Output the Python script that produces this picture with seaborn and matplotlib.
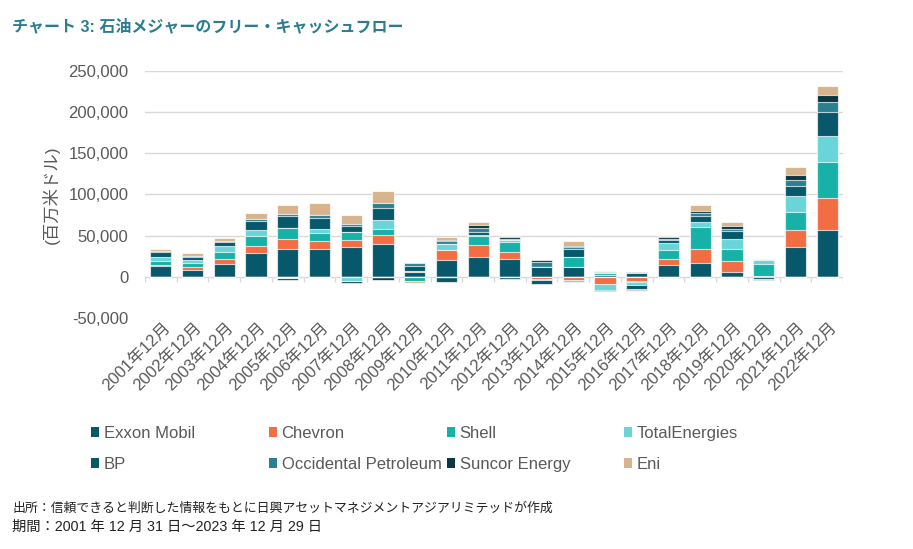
import matplotlib
matplotlib.use("Agg")
import matplotlib.pyplot as plt
import seaborn as sns
import pandas as pd
import numpy as np
from matplotlib.patches import Patch
from matplotlib.ticker import FuncFormatter, FixedLocator
from matplotlib.transforms import ScaledTranslation

months = ["2001年12月", "2002年12月", "2003年12月", "2004年12月", "2005年12月",
          "2006年12月", "2007年12月", "2008年12月", "2009年12月", "2010年12月",
          "2011年12月", "2012年12月", "2013年12月", "2014年12月", "2015年12月",
          "2016年12月", "2017年12月", "2018年12月", "2019年12月", "2020年12月",
          "2021年12月", "2022年12月"]

companies = ["Exxon Mobil", "Chevron", "Shell", "TotalEnergies", "BP",
             "Occidental Petroleum", "Suncor Energy", "Eni"]

exxon = [12600, 8900, 15000, 28800, 33700, 33300, 35700, 39800, 5300, 20700, 24000,
         21100, 11400, 11400, 2800, 4800, 14200, 16200, 5300, -3200, 35700, 57300]
chevron = [2000, 2800, 6900, 8500, 12200, 10600, 9300, 11000, 0, 12200, 15000,
           8500, -2400, -3700, -9300, -4500, 7300, 17000, 13400, 1600, 21100, 38200]
shell = [4900, 4500, 8500, 12200, 13400, 8900, 9700, 7700, -4900, 0, 10200,
         12200, 0, 12600, 2000, -1200, 11400, 26800, 15000, 13800, 22400, 43400]
total = [4500, 4000, 7300, 7700, -1600, 5700, -5300, 10600, 1200, 6500, 1200,
         2800, -1400, -2000, -6500, -4000, 8500, 6900, 12600, 4500, 18700, 32100]
bp = [5700, 4000, 4500, 11000, 14200, 13000, 6500, 15000, 6100, -5700, 4500,
      -2800, -4500, 9700, -2000, -4900, 3200, 7300, 9300, -800, 12200, 28800]
oxy = [1200, 1200, 1600, 2400, 3200, 4100, 3200, 6100, 4000, 4100, 4500,
       1600, 6500, 2000, 1600, 1000, 1600, 2800, 2800, 0, 7700, 13000]
suncor = [0, 0, 0, 0, -2000, 0, -2000, -3300, 0, 1200, 3200,
          1600, 2000, 2000, 0, -1200, 1600, 3200, 3200, 0, 6100, 7700]
eni = [2800, 3200, 3200, 7300, 11000, 14200, 10100, 14600, -2400, 3700, 4100,
       1600, 800, 6100, 1200, -1600, 1600, 6900, 5300, 1600, 9700, 11400]

colors = ["#07586a", "#f36d44", "#17b1a8", "#6ad5d9", "#07586a", "#2a7f93", "#0a3741", "#d8b48c"]

yticks = [-50000, 0, 50000, 100000, 150000, 200000, 250000]

title = "チャート 3: 石油メジャーのフリー・キャッシュフロー"
ylabel = "(百万米ドル)"
source = "出所：信頼できると判断した情報をもとに日興アセットマネジメントアジアリミテッドが作成"
period = "期間：2001 年 12 月 31 日～2023 年 12 月 29 日"

sns.set_theme(style="white")
plt.rcParams["font.family"] = ["Liberation Sans", "Noto Sans CJK JP", "DejaVu Sans"]
plt.rcParams["axes.unicode_minus"] = False

df = pd.DataFrame({"month": months, "Exxon Mobil": exxon, "Chevron": chevron, "Shell": shell,
                   "TotalEnergies": total, "BP": bp, "Occidental Petroleum": oxy,
                   "Suncor Energy": suncor, "Eni": eni})
vals = df[companies].to_numpy().T.astype(float)
pos = np.clip(vals, 0, None).cumsum(axis=0)
neg = np.clip(vals, None, 0).cumsum(axis=0)

fig = plt.figure(figsize=(9.13, 5.49), dpi=100)
ax = fig.add_axes([145 / 913, 1 - 318 / 549, (843 - 145) / 913, (318 - 71) / 549])

grid_c = "#d9d9d9"
for yv in yticks:
    if yv > 0:
        ax.axhline(yv, color=grid_c, lw=1, zorder=0)
ax.axhline(0, color=grid_c, lw=1, zorder=0.5)

edge = (1, 1, 1, 0.7)
for stack in (pos, neg):
    for k in reversed(range(len(companies))):
        sns.barplot(x=months, y=stack[k], order=months, color=colors[k], saturation=1,
                    width=0.67, errorbar=None, edgecolor=edge, linewidth=0.8, ax=ax, zorder=2)

ax.vlines(np.arange(-0.5, len(months), 1), -6000, 0, color=grid_c, lw=1, zorder=0.5)

ax.set_xlim(-0.5, len(months) - 0.5)
ax.set_ylim(-50000, 250000)
ax.yaxis.set_major_locator(FixedLocator(yticks))
ax.yaxis.set_major_formatter(FuncFormatter(lambda v, p: f"{int(v):,}"))
for s in ax.spines.values():
    s.set_visible(False)
ax.tick_params(axis="y", length=0, pad=12, labelsize=12, labelcolor="#595959")
ax.tick_params(axis="x", length=0, pad=5, labelsize=12, labelcolor="#595959")
ax.set_xticks(range(len(months)))
ax.set_xticklabels(months, rotation=45, ha="right", va="center", rotation_mode="anchor")
shift = ScaledTranslation(5 / 72, 0, fig.dpi_scale_trans)
for lab in ax.get_xticklabels():
    lab.set_transform(lab.get_transform() + shift)
ax.set_xlabel("")
ax.set_ylabel("")

fig.text(51 / 913, 1 - 195 / 549, ylabel, rotation=90, ha="center", va="center",
         fontsize=12.5, color="#595959")
fig.text(12 / 913, 1 - 27 / 549, title, ha="left", va="center", fontsize=11.5,
         fontweight="bold", color="#2a7d8e")
fig.text(12 / 913, 1 - 508 / 549, source, ha="left", va="center", fontsize=9.3, color="#222222",
         family=["Noto Sans CJK JP"])
fig.text(12 / 913, 1 - 527 / 549, period, ha="left", va="center", fontsize=10.3, color="#222222",
         family=["Liberation Sans", "Noto Sans CJK JP"])

col_x = [91, 269, 447, 624]
for c in range(4):
    idx = [c, c + 4]
    handles = [Patch(facecolor=colors[i], edgecolor="none") for i in idx]
    labels = [companies[i] for i in idx]
    leg = fig.legend(handles, labels, loc="upper left", bbox_to_anchor=(col_x[c] / 913, 1 - 426 / 549),
                     frameon=False, borderpad=0, borderaxespad=0, handlelength=0.5, handleheight=0.5,
                     handletextpad=0.25, labelspacing=0.95,
                     prop={"family": ["Liberation Sans"], "size": 12})
    for t in leg.get_texts():
        t.set_color("#595959")

fig.savefig("out.png", dpi=100)
